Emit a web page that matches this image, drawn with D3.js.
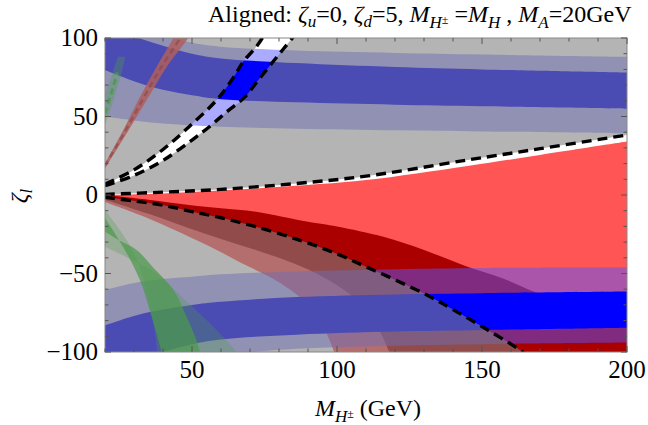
<!DOCTYPE html>
<html>
<head>
<meta charset="utf-8">
<script src="https://cdn.jsdelivr.net/npm/d3@7"></script>
<style>
  body { margin: 0; background: #fff; }
  svg { display: block; }
  text { font-family: "Liberation Serif", "DejaVu Serif", serif; fill: #000; }
</style>
</head>
<body>
<svg id="chart"></svg>
<script>
// ---- data (M_H+ in GeV, zeta_l) ----
const xTicks = [50, 100, 150, 200]
const yTicks = [-100, -50, 0, 50, 100]

// dashed bounds of the allowed regions
const upperLeftTop = [[20,7],[30,16],[40,29],[49,43.5],[58.5,60.5],[64,74],[67.7,85],[72,94],[74.6,101],[75.5,104]]
const upperLeftBot = [[20,6],[30,12.5],[40,22],[50,35],[56,43.5],[62,53],[68,62],[73,73.5],[78,85],[81.5,93],[85,101],[86,104]]
const wedgeTop = [[20,0.4],[40,1.8],[60,3.6],[87,7.5],[110,12],[145,22.3],[170,29.5],[200,38.2]]
const wedgeBot = [[20,-1.5],[30,-3.8],[40,-6.5],[50,-10.6],[60,-14.5],[72,-20.2],[87,-28.7],[100,-37.5],[110,-45.7],[120,-54],[131,-63.7],[140,-73],[152,-86],[164,-100],[165.5,-103]]

// red constraint (light = outer, dark = inner)
const redTop = [[20,0],[40,1],[60,2.8],[87,6],[110,9.5],[145,18.5],[170,25.5],[200,34]]
const redBot = [[20,-4.5],[35,-15],[49,-26.6],[58,-34.5],[67,-43.3],[76,-51.5],[84,-60.5],[90,-70],[95,-83],[99,-100],[100.5,-110]]
const darkRedTop = [[20,0],[35,-3],[49,-6.4],[60,-8.5],[72,-10.6],[90,-17],[100,-20],[116,-26.6],[130,-35],[145,-45.7],[157,-53],[168,-61.6],[185,-72],[200,-82]]
const darkRedBot = [[20,-3],[35,-12],[49,-21.2],[60,-28],[72,-35],[85,-43.5],[95,-52],[105,-64],[112,-78],[118,-100],[119.5,-110]]

// red streak, upper left
const redStreakTop = [[20,20.2],[26.3,41.4],[32.1,62.6],[37.8,81.7],[43.6,100],[44.6,104]]
const redStreakBot = [[20,17],[27.5,39.3],[34.4,60.5],[41.3,81.7],[48.7,100],[49.8,104]]
const redStreakMid = [[20,18.6],[26.9,40.4],[33.2,61.5],[39.5,81.7],[46,100]]

// blue bands, sampled at bandX
const bandX = [20, 30, 40, 50, 60, 86, 120, 150, 200]
const blueUpLightTop = [118, 109, 102, 97, 94.5, 92, 90.5, 89.5, 88]
const blueUpDarkTop = [108, 101, 95, 90, 87, 84, 81.5, 80, 78]
const blueUpDarkBot = [79.6, 72.5, 67, 63.5, 61, 59, 57.5, 56.5, 55]
const blueUpLightBot = [50, 47.5, 45.5, 44.3, 43.5, 42.2, 41.2, 40.5, 39.3]
const blueLowLightTop = [-60.5, -56, -53.5, -52, -50.5, -48.7, -47.3, -46.5, -46]
const blueLowDarkTop = [-83, -77, -73, -70, -68, -65, -63.3, -62.5, -61.5]
const blueLowDarkBot = [-118, -108, -100, -95, -92, -89, -87, -86, -84.5]
const blueLowLightBot = [-130, -118, -110, -105, -102, -98, -96, -95, -94]

// green bands
const greenLightTop = [[20,-9.6],[25,-22],[30,-37],[33,-52],[35.5,-70],[37,-85],[38,-100],[38.5,-110]]
const greenLightBot = [[20,-33],[30,-42],[37.8,-50],[46,-64],[55,-79.6],[60,-89],[65.4,-100],[67,-105]]
const greenDarkTop = [[20,-14.6],[26.2,-32.9],[32,-54],[36,-77],[39.5,-100],[40,-105]]
const greenDarkBot = [[20,-23.4],[25,-29],[30.9,-35],[37,-47],[43.6,-60.5],[48,-77],[51,-90],[52.8,-100],[53.5,-105]]
const greenUpTop = [[20,64],[21.5,72],[23,80],[24.5,88]]
const greenUpBot = [[20,45],[22,55],[24,67],[26,80],[27,88]]
const greenUpMid = [[20,52],[21.5,61],[23,70],[24.3,78]]

// ---- chart ----
const width = 648
const height = 425
const marginTop = 38
const marginRight = 21
const marginBottom = 73
const marginLeft = 105

const svg = d3.select("#chart").attr("width", width).attr("height", height)

const x = d3.scaleLinear().domain([20, 200]).range([marginLeft, width - marginRight])
const y = d3.scaleLinear().domain([-100, 100]).range([height - marginBottom, marginTop])

const curve = d3.line().x(d => x(d[0])).y(d => y(d[1])).curve(d3.curveCatmullRom.alpha(0.5))
const zip = (xs, ys) => xs.map((v, i) => [v, ys[i]])
const band = (top, bot, extra = "") => curve(top) + extra + curve(bot.slice().reverse()).replace("M", "L") + "Z"
const at = (a, b) => `L${x(a)},${y(b)}`

svg.append("clipPath").attr("id", "plot")
  .append("rect")
  .attr("x", x(20)).attr("y", y(100))
  .attr("width", x(200) - x(20)).attr("height", y(-100) - y(100))

const g = svg.append("g").attr("clip-path", "url(#plot)")

g.append("rect")
  .attr("x", x(20)).attr("y", y(100))
  .attr("width", x(200) - x(20)).attr("height", y(-100) - y(100))
  .attr("fill", "#fff")

// red constraint
g.append("path").attr("d", band(redTop, redBot, at(200, -110) + at(101, -110))).attr("fill", "#ff5555")
g.append("path").attr("d", band(darkRedTop, darkRedBot, at(200, -110) + at(120, -110))).attr("fill", "#aa0000")

// blue bands
const blues = [
  [blueUpLightTop, blueUpLightBot, "rgba(85,85,255,0.5)"],
  [blueUpDarkTop, blueUpDarkBot, "#0000ff"],
  [blueLowLightTop, blueLowLightBot, "rgba(85,85,255,0.5)"],
  [blueLowDarkTop, blueLowDarkBot, "#0000ff"]
]
g.selectAll(".blue")
  .data(blues)
  .join("path")
  .attr("d", d => band(zip(bandX, d[0]), zip(bandX, d[1])))
  .attr("fill", d => d[2])

// red streak
g.append("path").attr("d", band(redStreakTop, redStreakBot)).attr("fill", "rgba(240,50,50,0.85)")
g.append("path").attr("d", curve(redStreakMid))
  .attr("fill", "none").attr("stroke", "#a00000").attr("stroke-width", 2.5)
  .attr("stroke-dasharray", "6,4").attr("stroke-opacity", 0.7)

// green bands
g.append("path").attr("d", band(greenLightTop, greenLightBot)).attr("fill", "rgba(0,200,0,0.3)")
g.append("path").attr("d", band(greenDarkTop, greenDarkBot)).attr("fill", "rgba(0,190,0,0.7)")
g.append("path").attr("d", band(greenUpTop, greenUpBot)).attr("fill", "rgba(0,200,0,0.35)")
g.append("path").attr("d", curve(greenUpMid))
  .attr("fill", "none").attr("stroke", "rgba(0,190,0,0.8)").attr("stroke-width", 3)
  .attr("stroke-dasharray", "6,4")

// grey veil over the excluded area
const frame = `M${x(20)},${y(100)}H${x(200)}V${y(-100)}H${x(20)}Z`
const allowedLeft = band(upperLeftTop, upperLeftBot)
const allowedWedge = band(wedgeTop, wedgeBot, at(200, -110) + at(167, -110))
g.append("path")
  .attr("d", frame + allowedLeft + allowedWedge)
  .attr("fill", "#7f7f7f").attr("fill-opacity", 0.59)
  .attr("fill-rule", "evenodd")

// dashed bounds
g.selectAll(".bound")
  .data([upperLeftTop, upperLeftBot, wedgeTop, wedgeBot])
  .join("path")
  .attr("d", d => curve(d))
  .attr("fill", "none").attr("stroke", "#000")
  .attr("stroke-width", 3.4).attr("stroke-dasharray", "10,6")

// frame and ticks
svg.append("rect")
  .attr("x", x(20)).attr("y", y(100))
  .attr("width", x(200) - x(20)).attr("height", y(-100) - y(100))
  .attr("fill", "none").attr("stroke", "#888").attr("stroke-width", 1)

const xMinor = d3.range(20, 201, 10)
const yMinor = d3.range(-100, 101, 10)
const tickG = svg.append("g").attr("stroke", "#555").attr("stroke-width", 1)
xMinor.forEach(v => {
  const len = xTicks.includes(v) ? 6 : 3.5
  tickG.append("line").attr("x1", x(v)).attr("x2", x(v)).attr("y1", y(-100)).attr("y2", y(-100) - len)
  tickG.append("line").attr("x1", x(v)).attr("x2", x(v)).attr("y1", y(100)).attr("y2", y(100) + len)
})
yMinor.forEach(v => {
  const len = yTicks.includes(v) ? 6 : 3.5
  tickG.append("line").attr("y1", y(v)).attr("y2", y(v)).attr("x1", x(20)).attr("x2", x(20) + len)
  tickG.append("line").attr("y1", y(v)).attr("y2", y(v)).attr("x1", x(200)).attr("x2", x(200) - len)
})

svg.append("g").selectAll("text")
  .data(xTicks)
  .join("text")
  .attr("x", d => x(d)).attr("y", 378)
  .attr("text-anchor", "middle").attr("font-size", 25)
  .text(d => d)

svg.append("g").selectAll("text")
  .data(yTicks)
  .join("text")
  .attr("x", 98).attr("y", d => y(d) + 8)
  .attr("text-anchor", "end").attr("font-size", 25)
  .text(d => d < 0 ? "\u2212" + Math.abs(d) : d)

// title
const title = svg.append("text").attr("x", 208).attr("y", 22).attr("font-size", 24)
title.append("tspan").text("Aligned:  ")
title.append("tspan").attr("font-style", "italic").text("\u03b6")
title.append("tspan").attr("font-style", "italic").attr("font-size", 17).attr("dy", 5).text("u")
title.append("tspan").attr("dy", -5).text("=0, ")
title.append("tspan").attr("font-style", "italic").text("\u03b6")
title.append("tspan").attr("font-style", "italic").attr("font-size", 17).attr("dy", 5).text("d")
title.append("tspan").attr("dy", -5).text("=5,  ")
title.append("tspan").attr("font-style", "italic").text("M")
title.append("tspan").attr("font-style", "italic").attr("font-size", 17).attr("dy", 6).text("H")
title.append("tspan").attr("font-size", 12).attr("dy", -4).text("\u00b1")
title.append("tspan").attr("dy", -2).text(" =")
title.append("tspan").attr("font-style", "italic").text("M")
title.append("tspan").attr("font-style", "italic").attr("font-size", 17).attr("dy", 6).text("H")
title.append("tspan").attr("dy", -6).text(" ,  ")
title.append("tspan").attr("font-style", "italic").text("M")
title.append("tspan").attr("font-style", "italic").attr("font-size", 17).attr("dy", 6).text("A")
title.append("tspan").attr("dy", -6).text("=20GeV")

// axis labels
const xl = svg.append("text").attr("x", 368).attr("y", 416).attr("text-anchor", "middle").attr("font-size", 24)
xl.append("tspan").attr("font-style", "italic").text("M")
xl.append("tspan").attr("font-style", "italic").attr("font-size", 17).attr("dy", 6).text("H")
xl.append("tspan").attr("font-size", 12).attr("dy", -4).text("\u00b1")
xl.append("tspan").attr("dy", -2).text(" (GeV)")

const yl = svg.append("text").attr("transform", "translate(27,196) rotate(-90)")
  .attr("text-anchor", "middle").attr("font-size", 24)
yl.append("tspan").attr("font-style", "italic").text("\u03b6")
yl.append("tspan").attr("font-style", "italic").attr("font-size", 17).attr("dy", 5).text("l")
</script>
</body>
</html>
